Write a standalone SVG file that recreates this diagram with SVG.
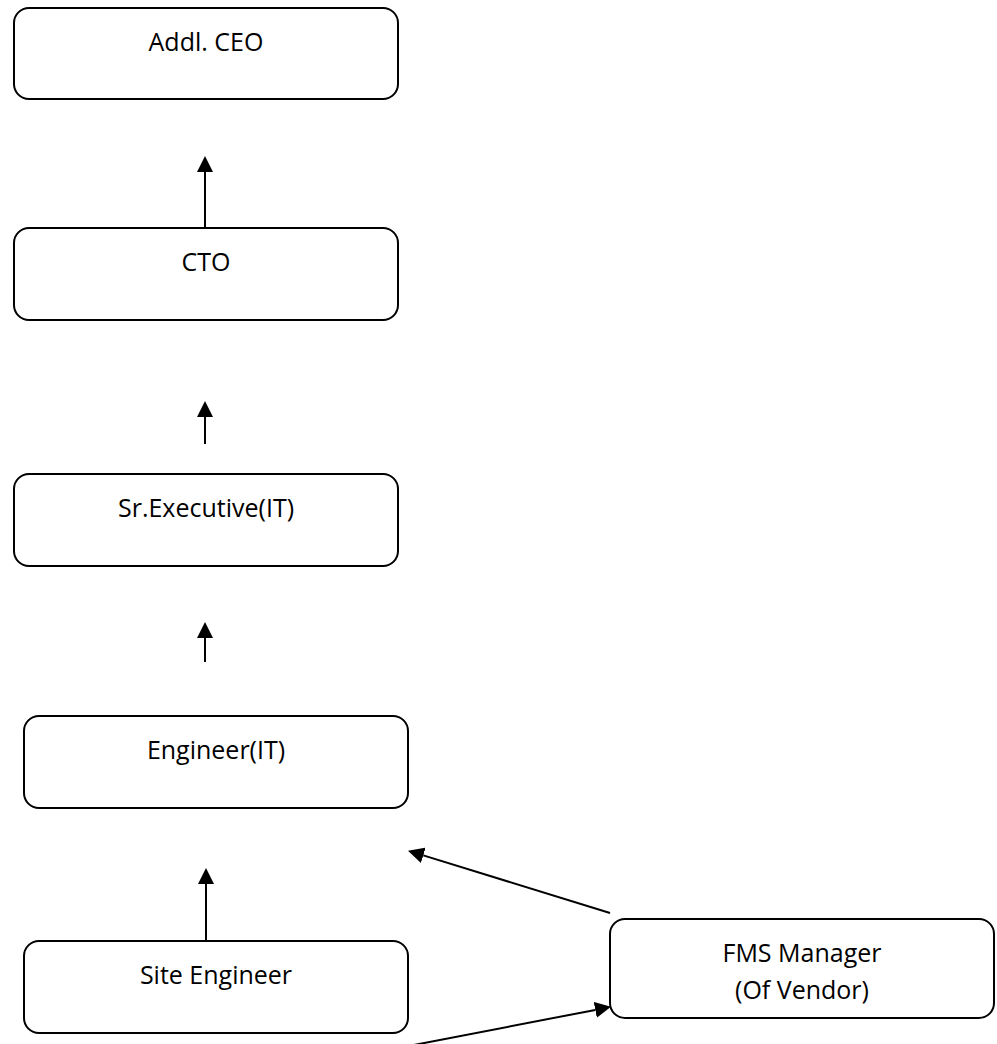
<svg xmlns="http://www.w3.org/2000/svg" width="997" height="1044" viewBox="0 0 997 1044">
<style>
.box{fill:#fff;stroke:#000;stroke-width:2}
.lbl{font-family:"Open Sans","Liberation Sans",sans-serif;font-size:25px;fill:#000;text-anchor:middle}
.conn{stroke:#000;stroke-width:2;fill:none;marker-end:url(#ah)}
</style>
<defs>
<marker id="ah" markerUnits="userSpaceOnUse" markerWidth="16" markerHeight="16" viewBox="0 0 15 15" refX="0" refY="7.5" orient="auto">
<path d="M0,0 L15,7.5 L0,15 z" fill="#000"/>
</marker>
</defs>
<rect width="997" height="1044" fill="#fff"/>
<g id="addl-ceo"><rect class="box" x="14" y="8" width="384" height="91" rx="15"/><text class="lbl" x="206" y="51">Addl. CEO</text></g>
<g id="cto"><rect class="box" x="14" y="228" width="384" height="92" rx="15"/><text class="lbl" x="206" y="271">CTO</text></g>
<g id="sr-exec"><rect class="box" x="14" y="474" width="384" height="92" rx="15"/><text class="lbl" x="206" y="517">Sr.Executive(IT)</text></g>
<g id="engineer"><rect class="box" x="24" y="716" width="384" height="92" rx="15"/><text class="lbl" x="216" y="759">Engineer(IT)</text></g>
<g id="site-engineer"><rect class="box" x="24" y="941" width="384" height="92" rx="15"/><text class="lbl" x="216" y="984">Site Engineer</text></g>
<g id="fms"><rect class="box" x="610" y="919" width="384" height="99" rx="15"/><text class="lbl" x="802" y="962">FMS Manager</text><text class="lbl" x="802" y="999">(Of Vendor)</text></g>
<g id="connectors">
<path class="conn" d="M205,228 L205,172"/>
<path class="conn" d="M205,444 L205,417"/>
<path class="conn" d="M205,662 L205,638"/>
<path class="conn" d="M206,941 L206,884"/>
<path class="conn" d="M610,913 L423.3,855.4"/>
<path class="conn" d="M388,1050 L595.3,1009.9"/>
</g>
</svg>
